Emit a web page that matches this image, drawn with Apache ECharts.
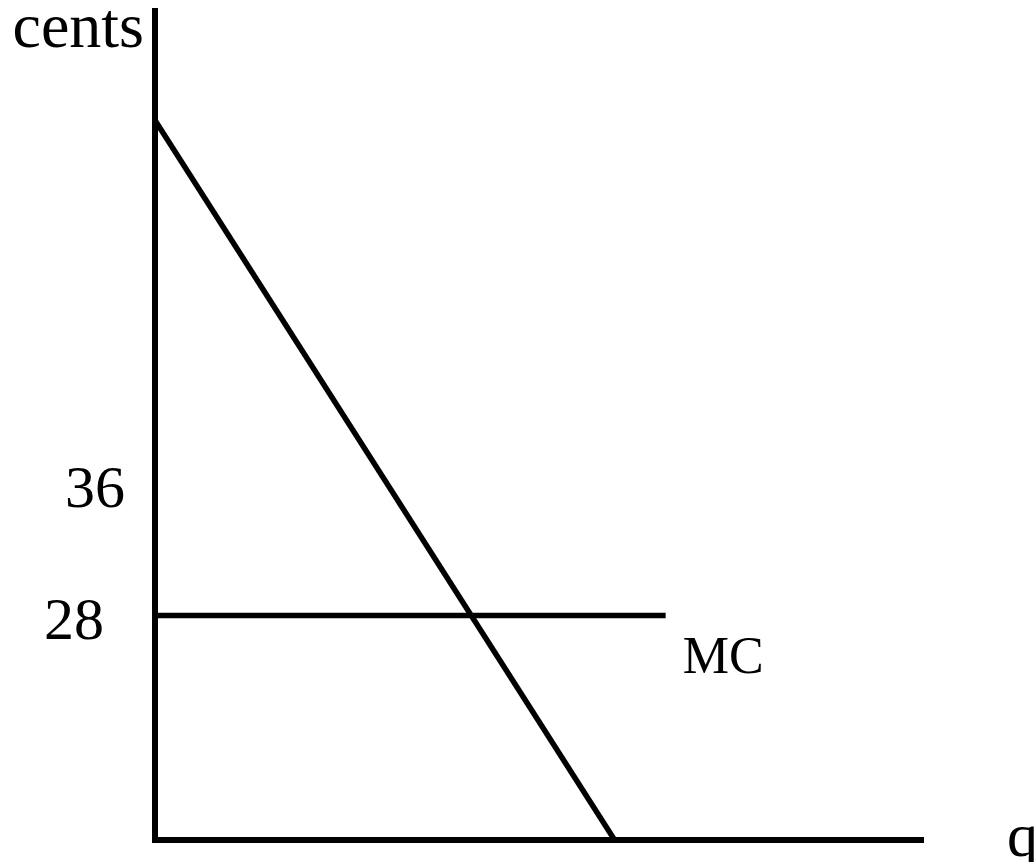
<!DOCTYPE html>
<html>
<head>
<meta charset="utf-8">
<title>Monopoly pricing with constant marginal cost</title>
<script src="https://cdn.jsdelivr.net/npm/echarts@6/dist/echarts.min.js"></script>
<style>
  html, body { margin: 0; padding: 0; background: #ffffff; }
  #chart { width: 1034px; height: 862px; }
</style>
</head>
<body>
<div id="chart"></div>
<script>
// Price axis (cents): the diagram is schematic, the horizontal axis sits above zero
const priceFloor = 14.4;
const priceCeiling = 64.8;
const priceTicks = [28, 36];

// Quantity axis
const quantityMax = 75;

// Demand curve: straight line from the price intercept down to the quantity axis
const demandPoints = [[0, 58], [45, priceFloor]];

// Constant marginal cost of 28 cents
const marginalCost = 28;
const mcPoints = [[0, marginalCost], [50, marginalCost]];

const serif = "'Liberation Serif', 'Times New Roman', serif";
const ink = '#000000';

const chart = echarts.init(document.getElementById('chart'), null, { renderer: 'canvas' });

chart.setOption({
  backgroundColor: '#ffffff',
  animation: false,
  grid: {
    left: 155, right: 113, top: 8, bottom: 22,
    containLabel: false,
    outerBoundsMode: 'none'
  },
  xAxis: {
    type: 'value',
    min: 0,
    max: quantityMax,
    name: 'q',
    nameLocation: 'end',
    nameGap: 86,
    nameTextStyle: {
      fontFamily: serif, fontSize: 62, color: ink,
      align: 'left', verticalAlign: 'middle', padding: [0, 0, 30, 0]
    },
    axisLine: { show: true, lineStyle: { color: ink, width: 6, cap: 'square' } },
    axisTick: { show: false },
    axisLabel: { show: false },
    splitLine: { show: false }
  },
  yAxis: {
    type: 'value',
    min: priceFloor,
    max: priceCeiling,
    name: 'cents',
    nameLocation: 'end',
    nameGap: -22,
    nameTextStyle: {
      fontFamily: serif, fontSize: 64, color: ink,
      align: 'right', verticalAlign: 'middle', padding: [0, 11, 0, 0]
    },
    axisLine: { show: true, lineStyle: { color: ink, width: 6, cap: 'butt' } },
    axisTick: { show: false },
    splitLine: { show: false },
    axisLabel: {
      show: true,
      customValues: priceTicks,
      margin: 30,
      fontFamily: serif,
      fontSize: 60,
      color: ink,
      formatter: function (v) {
        return v === 36 ? '{hi|36}' : '{lo|' + v + '}';
      },
      rich: {
        hi: { fontFamily: serif, fontSize: 60, color: ink, padding: [15, 0, 0, 0] },
        lo: { fontFamily: serif, fontSize: 60, color: ink, padding: [15, 21, 0, 0] }
      }
    }
  },
  series: [
    {
      name: 'Demand',
      type: 'line',
      data: demandPoints,
      symbol: 'none',
      lineStyle: { color: ink, width: 5.5 },
      silent: true
    },
    {
      name: 'MC',
      type: 'line',
      data: mcPoints,
      symbol: 'none',
      lineStyle: { color: ink, width: 5.5 },
      silent: true,
      markPoint: {
        symbol: 'circle',
        symbolSize: 0,
        silent: true,
        data: [{ coord: mcPoints[1] }],
        label: {
          show: true,
          formatter: 'MC',
          position: [17, 44],
          align: 'left',
          verticalAlign: 'middle',
          fontFamily: serif,
          fontSize: 52,
          color: ink
        }
      }
    }
  ]
});
</script>
</body>
</html>
